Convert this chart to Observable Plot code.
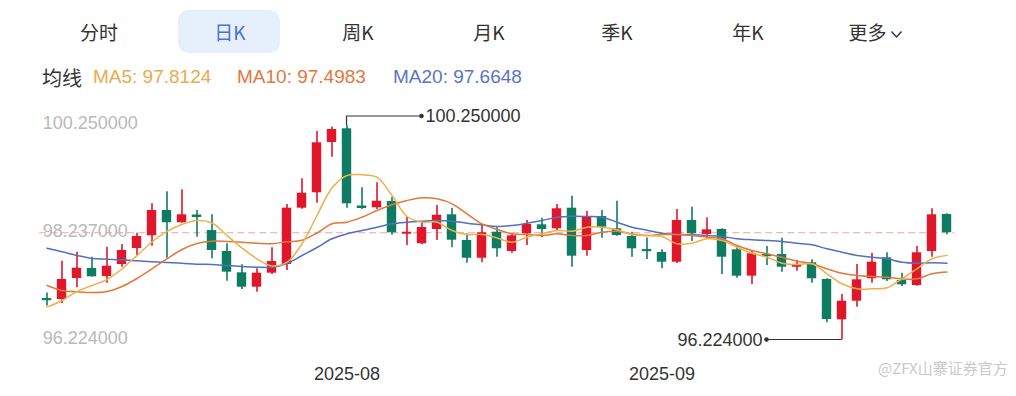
<!DOCTYPE html>
<html><head><meta charset="utf-8">
<script src="https://cdn.jsdelivr.net/npm/d3@7"></script>
<script src="https://cdn.jsdelivr.net/npm/@observablehq/plot@0.6"></script>
<style>
html,body{margin:0;padding:0;background:#fff;}
#root{position:relative;width:1016px;height:396px;overflow:hidden;font-family:"Liberation Sans",Arial,"Noto Sans CJK SC",sans-serif;color:#333;}
.pill{position:absolute;left:178px;top:10px;width:102px;height:43px;background:#e6f0fd;border-radius:10px;}
.tab{position:absolute;top:31px;transform:translate(-50%,-50%);font-size:19px;white-space:nowrap;color:#333;font-family:"Noto Sans CJK SC","Liberation Sans",sans-serif;}
.legend{position:absolute;top:77px;transform:translateY(-50%);font-size:19px;white-space:nowrap;}
#chart{position:absolute;left:0;top:100px;}
.wm{position:absolute;left:878px;top:367px;transform:translateY(-50%);font-size:15px;color:#c9c9c9;font-family:"Noto Sans CJK SC",sans-serif;white-space:nowrap;}
</style></head>
<body><div id="root"><div class="pill"></div><div id="chart"></div></div>
<script>
// ---------- data ----------
const tabs = ["分时", "日K", "周K", "月K", "季K", "年K", "更多"];
const selectedTab = "日K";
const dates = ["2025-07-04","2025-07-07","2025-07-08","2025-07-09","2025-07-10","2025-07-11","2025-07-14","2025-07-15","2025-07-16","2025-07-17","2025-07-18","2025-07-21","2025-07-22","2025-07-23","2025-07-24","2025-07-25","2025-07-28","2025-07-29","2025-07-30","2025-07-31",
"2025-08-01","2025-08-04","2025-08-05","2025-08-06","2025-08-07","2025-08-08","2025-08-11","2025-08-12","2025-08-13","2025-08-14","2025-08-15","2025-08-18","2025-08-19","2025-08-20","2025-08-21","2025-08-22","2025-08-25","2025-08-26","2025-08-27","2025-08-28","2025-08-29",
"2025-09-01","2025-09-02","2025-09-03","2025-09-04","2025-09-05","2025-09-08","2025-09-09","2025-09-10","2025-09-11","2025-09-12","2025-09-15","2025-09-16","2025-09-17","2025-09-18","2025-09-19","2025-09-22","2025-09-23","2025-09-24","2025-09-25","2025-09-26"];
const open = [97.003,96.984,97.378,97.566,97.416,97.641,97.941,98.180,98.655,98.424,
98.570,98.279,97.885,97.485,97.215,97.478,97.641,98.698,98.987,99.931,
100.188,98.739,98.705,98.824,98.210,98.030,98.298,98.574,98.092,97.759,
98.247,97.885,98.217,98.386,98.311,98.698,97.904,98.542,98.311,98.167,
97.923,97.866,97.684,98.467,98.204,98.298,97.917,97.422,97.829,97.829,
97.590,97.673,97.360,96.603,96.952,97.373,97.767,97.341,97.247,97.885,98.580];
const high = [97.106,97.703,97.872,97.778,97.966,98.017,98.229,98.780,99.006,99.043,
98.655,98.574,98.030,97.636,97.560,97.955,98.767,99.250,100.137,100.220,
100.250,99.081,99.175,98.904,98.529,98.416,98.749,98.698,98.217,98.373,
98.330,98.229,98.467,98.510,98.767,98.923,98.636,98.655,98.829,98.247,
98.139,97.917,98.673,98.717,98.518,98.311,97.979,97.885,97.979,98.135,
97.716,97.729,97.373,97.078,97.641,97.853,97.861,97.478,97.979,98.687,98.593];
const low = [96.862,96.909,97.204,97.405,97.290,97.590,97.810,97.985,97.759,98.420,
98.154,97.748,97.328,97.172,97.121,97.453,97.529,98.679,98.792,99.655,
98.698,98.673,98.673,98.191,97.998,98.017,98.092,97.955,97.666,97.673,
97.778,97.853,97.998,98.142,98.279,97.590,97.797,98.135,98.172,97.778,
97.735,97.560,97.660,98.073,98.124,97.453,97.384,97.266,97.622,97.497,
97.515,97.290,96.547,96.224,96.840,97.290,97.322,97.228,97.235,97.778,98.199];
const close = [96.990,97.360,97.572,97.410,97.609,97.904,98.167,98.655,98.424,98.574,
98.551,97.904,97.497,97.215,97.478,97.697,98.698,98.979,99.925,100.175,
98.780,98.720,98.829,98.236,98.247,98.336,98.566,98.097,97.759,98.236,
97.936,98.180,98.392,98.298,98.687,97.797,98.529,98.341,98.185,97.936,
97.910,97.684,98.467,98.217,98.292,97.778,97.422,97.842,97.816,97.590,
97.641,97.373,96.609,96.952,97.354,97.684,97.354,97.260,97.861,98.574,98.237];
const ma5 = [96.840,96.965,97.134,97.247,97.360,97.560,97.810,98.063,98.261,98.392,
98.467,98.420,98.185,97.951,97.748,97.613,97.684,98.030,98.561,99.077,
99.312,99.325,99.280,98.936,98.542,98.435,98.435,98.279,98.204,98.204,
98.139,98.060,98.154,98.217,98.279,98.266,98.341,98.341,98.292,98.204,
98.185,98.167,98.030,98.041,98.124,98.092,97.966,97.853,97.778,97.666,
97.641,97.654,97.467,97.279,97.185,97.185,97.204,97.373,97.560,97.748,97.8124];
const ma10 = [97.247,97.153,97.129,97.116,97.134,97.228,97.378,97.560,97.748,97.923,
98.035,98.078,98.073,98.060,98.041,98.030,98.067,98.097,98.232,98.405,
98.435,98.529,98.655,98.762,98.842,98.893,98.874,98.780,98.593,98.405,
98.302,98.217,98.204,98.185,98.217,98.185,98.185,98.247,98.266,98.217,
98.185,98.204,98.204,98.185,98.154,98.124,97.998,97.904,97.842,97.778,
97.703,97.654,97.560,97.478,97.435,97.416,97.403,97.373,97.373,97.467,97.4983];
const ma20 = [97.947,97.880,97.810,97.754,97.741,97.729,97.711,97.694,97.679,97.666,
97.647,97.641,97.622,97.604,97.590,97.590,97.660,97.810,97.960,98.124,
98.217,98.279,98.341,98.405,98.435,98.454,98.467,98.454,98.416,98.386,
98.354,98.373,98.416,98.467,98.529,98.548,98.542,98.529,98.435,98.341,
98.285,98.229,98.204,98.199,98.185,98.167,98.124,98.105,98.092,98.073,
98.041,98.011,97.936,97.872,97.810,97.778,97.748,97.684,97.666,97.673,97.6648];
const maNames = ["MA5", "MA10", "MA20"];
const maLast = [97.8124, 97.4983, 97.6648];
const yTicks = [100.25, 98.237, 96.224];
const lastClose = 98.237;
const monthTicks = ["2025-08-01", "2025-09-01"];
const monthLabels = ["2025-08", "2025-09"];
const watermark = "@ZFX山寨证券官方";

// ---------- styles ----------
const RED = "#e0162b", GREEN = "#0e7c62";
const maColors = ["#edb04a", "#e2783b", "#5270c2"];
const legendColors = ["#e9ab4b", "#e2783b", "#5a74c4"];

// ---------- header (tabs, legend) ----------
const root = document.getElementById("root");
const tabX = [99, 230, 358, 489, 617, 748, 876];
tabs.forEach((t, i) => {
  const el = document.createElement("div");
  el.className = "tab";
  el.style.left = tabX[i] + "px";
  el.textContent = t;
  if (t === selectedTab) el.style.color = "#4a6fd6";
  if (i === tabs.length - 1) {
    el.innerHTML = t + '<svg width="14" height="10" style="margin-left:3px;vertical-align:middle"><polyline points="2,2 7,7.5 12,2" fill="none" stroke="#333" stroke-width="1.4"/></svg>';
  }
  root.appendChild(el);
});
const legX = [42, 93, 237, 393];
const lg0 = document.createElement("div");
lg0.className = "legend"; lg0.style.left = legX[0] + "px"; lg0.style.fontSize = "20px";
lg0.style.fontFamily = '"Noto Sans CJK SC",sans-serif';
lg0.textContent = "均线"; root.appendChild(lg0);
maNames.forEach((n, i) => {
  const el = document.createElement("div");
  el.className = "legend";
  el.style.left = legX[i + 1] + "px";
  el.style.color = legendColors[i];
  el.textContent = `${n}: ${maLast[i].toFixed(4)}`;
  root.appendChild(el);
});
const wm = document.createElement("div");
wm.className = "wm"; wm.textContent = watermark; root.appendChild(wm);

// ---------- chart ----------
const rows = dates.map((d, i) => ({date: d, open: open[i], high: high[i], low: low[i], close: close[i], ma5: ma5[i], ma10: ma10[i], ma20: ma20[i]}));
const col = d => d.close > d.open ? RED : GREEN;
const ML = 39.2, MR = 61.8;

const chart = Plot.plot({
  width: 1016, height: 296,
  marginLeft: ML, marginRight: MR, marginTop: 0, marginBottom: 0,
  x: {type: "band", domain: dates, padding: 0, axis: null},
  y: {domain: [96.224, 100.25], range: [239.5, 25], axis: null},
  color: {type: "identity"},
  style: {fontFamily: "Liberation Sans, Arial, sans-serif", overflow: "visible", background: "transparent"},
  marks: [
    Plot.ruleY([lastClose], {y: d => d, stroke: "#eba7a2", strokeDasharray: "7,4", strokeWidth: 1.2}),
    Plot.text(yTicks, {y: d => d, text: d => d.toFixed(6), frameAnchor: "left", textAnchor: "start", dx: 3, dy: -2, fill: "#b9b9b9", fontSize: 18}),
    Plot.ruleX(rows, {x: "date", y1: "low", y2: "high", stroke: col, strokeWidth: 1.6}),
    Plot.barY(rows, {x: "date", y1: "open", y2: "close", fill: col, insetLeft: 2.8, insetRight: 2.8}),
    Plot.tickY(rows, {filter: d => Math.abs(d.close - d.open) < 0.03, x: "date", y: "close", stroke: col, strokeWidth: 2, insetLeft: 2.8, insetRight: 2.8}),
    Plot.line(rows, {x: "date", y: "ma20", stroke: maColors[2], strokeWidth: 1.5, curve: "catmull-rom"}),
    Plot.line(rows, {x: "date", y: "ma10", stroke: maColors[1], strokeWidth: 1.5, curve: "catmull-rom"}),
    Plot.line(rows, {x: "date", y: "ma5", stroke: maColors[0], strokeWidth: 1.5, curve: "catmull-rom"}),
    Plot.text(monthTicks, {x: d => d, text: (d, i) => monthLabels[i], frameAnchor: "bottom", dy: -17, fontSize: 18, fill: "#333"})
  ]
});
document.getElementById("chart").appendChild(chart);

// ---------- max / min annotations using the plot's scales ----------
const xs = chart.scale("x"), ys = chart.scale("y");
const bw = xs.bandwidth || 0;
const leftEdge = Math.abs(xs.apply(dates[0]) - ML) < 2;
const cx = d => xs.apply(d) + (leftEdge ? bw / 2 : 0);
const svg = d3.select(chart);
const g = svg.append("g").attr("text-anchor", "start");
const iMax = high.indexOf(d3.max(high));
const iMin = low.indexOf(d3.min(low));
{
  const x0 = cx(dates[iMax]), y0 = ys.apply(high[iMax]), x1 = cx(dates[iMax + 5]), yl = y0 - 9;
  g.append("path").attr("d", `M${x0},${y0}V${yl}H${x1}`).attr("fill", "none").attr("stroke", "#333").attr("stroke-width", 1.2);
  g.append("circle").attr("cx", x1).attr("cy", yl).attr("r", 2.3).attr("fill", "#333");
  g.append("text").attr("x", x1 + 4).attr("y", yl).attr("dy", "0.35em").attr("text-anchor", "start").attr("font-size", 18).attr("fill", "#333").text(high[iMax].toFixed(6));
}
{
  const x0 = cx(dates[iMin]), y0 = ys.apply(low[iMin]), x1 = cx(dates[iMin - 5]);
  g.append("path").attr("d", `M${x0},${y0}H${x1}`).attr("fill", "none").attr("stroke", "#333").attr("stroke-width", 1.2);
  g.append("circle").attr("cx", x1).attr("cy", y0).attr("r", 2.3).attr("fill", "#333");
  g.append("text").attr("x", x1 - 4).attr("y", y0).attr("dy", "0.35em").attr("text-anchor", "end").attr("font-size", 18).attr("fill", "#333").text(low[iMin].toFixed(6));
}
</script>
</body></html>
